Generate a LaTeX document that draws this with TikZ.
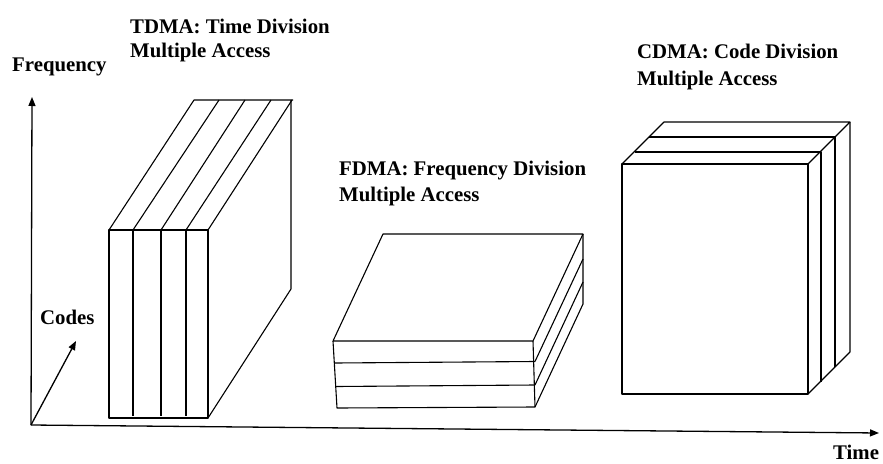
\documentclass[tikz,border=0pt]{standalone}
\usepackage{fontspec}
\setmainfont{Liberation Serif}
\usetikzlibrary{arrows.meta}
\begin{document}
\begin{tikzpicture}[x=1pt,y=-1pt,
  edge/.style={line width=1.1pt, black, line join=round},
  axis/.style={line width=1.3pt, black, -{Triangle[length=9pt,width=7pt]}},
  lbl/.style={font=\fontsize{20.8}{26.5}\selectfont\bfseries, inner sep=0pt, align=left}]
\useasboundingbox (0,0) rectangle (883,463);

% axes
\coordinate (O) at (31,425);
\coordinate (F) at (32,97);
\coordinate (C) at (76,341);
\coordinate (T) at (879,433);
\draw[axis] (O) -- (F);
\draw[axis] (O) -- (C);
\draw[axis] (O) -- (T);

% labels
\node[lbl, anchor=base west] (lf) at (12,71) {Frequency};
\node[lbl, anchor=base west] (lc) at (40,324) {Codes};
\node[lbl, anchor=base west] (lt) at (833,459.5) {Time};
\node[lbl, anchor=north west, font=\fontsize{20.8}{24.5}\selectfont\bfseries] (ltd) at (130,18.6) {TDMA: Time Division\\Multiple Access};
\node[lbl, anchor=north west] (lfd) at (339,160.8) {FDMA: Frequency Division\\Multiple Access};
\node[lbl, anchor=north west] (lcd) at (637,44.0) {CDMA: Code Division\\Multiple Access};

% TDMA block
\draw[edge] (109,230) rectangle (208,418);
\foreach \x in {133,161,186} \draw[edge] (\x,230) -- (\x,416);
\draw[edge] (109,230) -- (194,100) -- (293,100);
\draw[edge] (133,230) -- (219,100);
\draw[edge] (161,230) -- (245,100);
\draw[edge] (186,230) -- (271,100);
\draw[edge] (208,230) -- (292,100);
\draw[edge] (291,100) -- (291,289) -- (208,418);

% FDMA block
\draw[edge] (333,341) -- (383,234) -- (583,234) -- (533,341) -- cycle;
\draw[edge] (333,341) -- (337,408) -- (535,407) -- (533,341);
\draw[edge] (335,363) -- (535,361.5);
\draw[edge] (336,386.5) -- (535,385);
\draw[edge] (583,234) -- (583,304) -- (535,407);
\draw[edge] (535,361.5) -- (583,259);
\draw[edge] (535,385) -- (583,282);

% CDMA block
\draw[edge] (622,164) rectangle (808,394);
\draw[edge] (622,164) -- (664,122) -- (850,122) -- (808,164);
\draw[edge] (635,152) -- (821,152) -- (821,382);
\draw[edge] (649,137) -- (835,137) -- (835,367);
\draw[edge] (850,122) -- (850,352) -- (808,394);
\end{tikzpicture}
\end{document}
